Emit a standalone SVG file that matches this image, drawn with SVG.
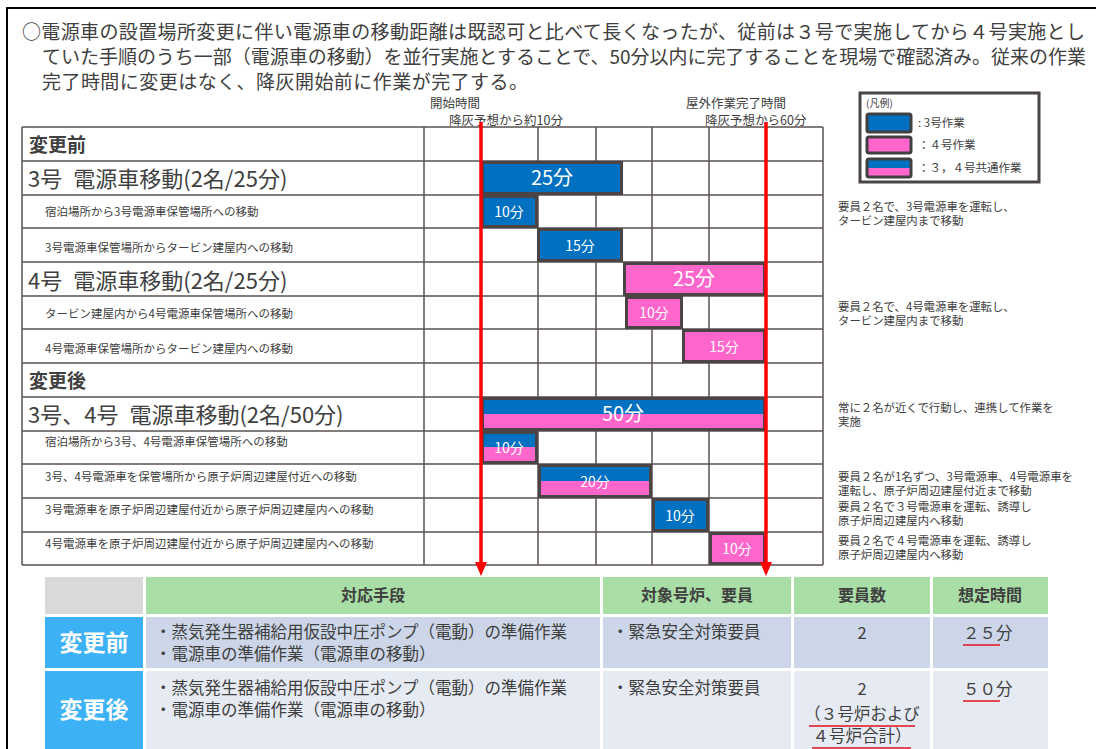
<svg xmlns="http://www.w3.org/2000/svg" width="1096" height="749" viewBox="0 0 1096 749">
<style>
text{font-family:"Noto Sans CJK JP","Noto Sans",sans-serif;fill:#404040}
.grid{stroke:#5a5252;stroke-width:1.5;fill:none}
.bar{stroke:#4a4444;stroke-width:3}
.blue{fill:#0070c0}
.pink{fill:#ff66cc}
.split{fill:url(#sp)}
.bt{fill:#fff;text-anchor:middle}
.big{font-size:20px}
.sm{font-size:14px}
.lbl{font-size:11.5px}
.hd{font-size:22px}
.sec{font-size:19px;font-weight:bold}
.ann{font-size:11.4px}
.tm{font-size:12.5px}
.red{stroke:#ff0000;stroke-width:3.5;fill:none}
.th{font-size:16px;font-weight:bold;text-anchor:middle}
.tb{font-size:16.5px}
.rl{font-size:23px;font-weight:bold;fill:#fff;text-anchor:middle}
.ul{stroke:#e0141e;stroke-width:1.5}
</style>
<defs>
<linearGradient id="sp" x1="0" y1="0" x2="0" y2="1">
<stop offset="0" stop-color="#0070c0"/><stop offset="0.5" stop-color="#0070c0"/>
<stop offset="0.5" stop-color="#ff66cc"/><stop offset="1" stop-color="#ff66cc"/>
</linearGradient>
<marker id="ah" markerUnits="userSpaceOnUse" viewBox="0 -6 14 12" markerWidth="14" markerHeight="12" refX="4" refY="0" orient="auto">
<path d="M0,-6 L14,0 L0,6 z" fill="#ff0000"/>
</marker>
</defs>
<rect width="1096" height="749" fill="#fff"/>
<path d="M7 749 V8 H1096" stroke="#000" stroke-width="2" fill="none"/>

<g id="intro">
<text x="22" y="39" font-size="19" textLength="1063" lengthAdjust="spacing">○電源車の設置場所変更に伴い電源車の移動距離は既認可と比べて長くなったが、従前は３号で実施してから４号実施とし</text>
<text x="42" y="64" font-size="19" textLength="1044" lengthAdjust="spacing">ていた手順のうち一部（電源車の移動）を並行実施とすることで、50分以内に完了することを現場で確認済み。従来の作業</text>
<text x="42" y="89" font-size="19" textLength="486" lengthAdjust="spacing">完了時間に変更はなく、降灰開始前に作業が完了する。</text>
</g>

<g id="time-labels">
<text class="tm" x="430" y="108">開始時間</text>
<text class="tm" x="449" y="125">降灰予想から約10分</text>
<text class="tm" x="686" y="108">屋外作業完了時間</text>
<text class="tm" x="705" y="125">降灰予想から60分</text>
</g>

<g id="grid">
<path class="grid" d="M22 127H823M22 161H823M22 195H823M22 228H823M22 262H823M22 296H823M22 329H823M22 363H823M22 397H823M22 431H823M22 464H823M22 498H823M22 532H823M22 565H823"/>
<path class="grid" d="M22 127V565M424 127V565M481 127V565M538 127V565M596 127V565M652 127V565M709 127V565M766 127V565M823 127V565"/>
</g>

<g id="row-labels">
<text class="sec" x="29" y="152">変更前</text>
<text class="hd" x="28" y="187">3号&#8194;電源車移動(2名/25分)</text>
<text class="lbl" x="45" y="216">宿泊場所から3号電源車保管場所への移動</text>
<text class="lbl" x="45" y="252">3号電源車保管場所からタービン建屋内への移動</text>
<text class="hd" x="28" y="289">4号&#8194;電源車移動(2名/25分)</text>
<text class="lbl" x="45" y="318">タービン建屋内から4号電源車保管場所への移動</text>
<text class="lbl" x="45" y="353">4号電源車保管場所からタービン建屋内への移動</text>
<text class="sec" x="29" y="388">変更後</text>
<text class="hd" x="28" y="423">3号、4号&#8194;電源車移動(2名/50分)</text>
<text class="lbl" x="45" y="446">宿泊場所から3号、4号電源車保管場所への移動</text>
<text class="lbl" x="45" y="481">3号、4号電源車を保管場所から原子炉周辺建屋付近への移動</text>
<text class="lbl" x="45" y="514">3号電源車を原子炉周辺建屋付近から原子炉周辺建屋内への移動</text>
<text class="lbl" x="45" y="548">4号電源車を原子炉周辺建屋付近から原子炉周辺建屋内への移動</text>
</g>

<g id="bar-3-total"><rect class="bar blue" x="482.5" y="162.5" width="139" height="31"/><text class="bt big" x="552" y="185">25分</text></g>
<g id="bar-3-a"><rect class="bar blue" x="482.5" y="196.5" width="54" height="30"/><text class="bt sm" x="509" y="217">10分</text></g>
<g id="bar-3-b"><rect class="bar blue" x="538.5" y="229.5" width="83" height="31"/><text class="bt sm" x="580" y="251">15分</text></g>
<g id="bar-4-total"><rect class="bar pink" x="624.5" y="263.5" width="140" height="31"/><text class="bt big" x="694" y="286">25分</text></g>
<g id="bar-4-a"><rect class="bar pink" x="626.5" y="297.5" width="55" height="30"/><text class="bt sm" x="654" y="318">10分</text></g>
<g id="bar-4-b"><rect class="bar pink" x="683.5" y="330.5" width="81" height="31"/><text class="bt sm" x="724" y="352">15分</text></g>
<g id="bar-34-total"><rect class="bar split" x="482.5" y="398.5" width="282" height="31"/><text class="bt big" x="623" y="421">50分</text></g>
<g id="bar-34-a"><rect class="bar split" x="482.5" y="432.5" width="54" height="30"/><text class="bt sm" x="509" y="453">10分</text></g>
<g id="bar-34-b"><rect class="bar split" x="539.5" y="465.5" width="111" height="31"/><text class="bt sm" x="595" y="487">20分</text></g>
<g id="bar-3-c"><rect class="bar blue" x="653.5" y="499.5" width="54" height="31"/><text class="bt sm" x="680" y="521">10分</text></g>
<g id="bar-4-c"><rect class="bar pink" x="710.5" y="533.5" width="54" height="30"/><text class="bt sm" x="737" y="554">10分</text></g>

<g id="connectors">
<path class="red" d="M481 122V566" marker-end="url(#ah)"/>
<path class="red" d="M766 122V566" marker-end="url(#ah)"/>
</g>

<g id="legend">
<rect x="860" y="93" width="179" height="89" fill="#fff" stroke="#4a4444" stroke-width="3"/>
<text x="866" y="107" font-size="10">(凡例)</text>
<rect x="867" y="114" width="44" height="18" rx="2" class="blue" stroke="#404040" stroke-width="3"/>
<rect x="867" y="137" width="44" height="16" rx="2" class="pink" stroke="#404040" stroke-width="3"/>
<rect x="867" y="159" width="44" height="18" rx="2" class="split" stroke="#404040" stroke-width="3"/>
<text x="918" y="127" font-size="11.5">: 3号作業</text>
<text x="918" y="149" font-size="11.5">：４号作業</text>
<text x="918" y="172" font-size="11.5">：３，４号共通作業</text>
</g>

<g id="annotations">
<text class="ann" x="838" y="211">要員２名で、3号電源車を運転し、</text>
<text class="ann" x="838" y="225">タービン建屋内まで移動</text>
<text class="ann" x="838" y="311">要員２名で、4号電源車を運転し、</text>
<text class="ann" x="838" y="325">タービン建屋内まで移動</text>
<text class="ann" x="838" y="412">常に２名が近くで行動し、連携して作業を</text>
<text class="ann" x="838" y="426">実施</text>
<text class="ann" x="838" y="481">要員２名が1名ずつ、3号電源車、4号電源車を</text>
<text class="ann" x="838" y="495">運転し、原子炉周辺建屋付近まで移動</text>
<text class="ann" x="838" y="511">要員２名で３号電源車を運転、誘導し</text>
<text class="ann" x="838" y="525">原子炉周辺建屋内へ移動</text>
<text class="ann" x="838" y="545">要員２名で４号電源車を運転、誘導し</text>
<text class="ann" x="838" y="559">原子炉周辺建屋内へ移動</text>
</g>

<g id="table">
<rect x="45" y="577" width="98" height="37" fill="#d9d9d9"/>
<rect x="146" y="577" width="454" height="37" fill="#a9dea6"/>
<rect x="603" y="577" width="188" height="37" fill="#a9dea6"/>
<rect x="794" y="577" width="136" height="37" fill="#a9dea6"/>
<rect x="933" y="577" width="115" height="37" fill="#a9dea6"/>
<text class="th" x="373" y="601">対応手段</text>
<text class="th" x="697" y="601">対象号炉、要員</text>
<text class="th" x="862" y="601">要員数</text>
<text class="th" x="990" y="601">想定時間</text>

<rect x="45" y="617" width="98" height="51" fill="#3cb1f6"/>
<rect x="146" y="617" width="454" height="51" fill="#ccd6e8"/>
<rect x="603" y="617" width="188" height="51" fill="#ccd6e8"/>
<rect x="794" y="617" width="136" height="51" fill="#ccd6e8"/>
<rect x="933" y="617" width="115" height="51" fill="#ccd6e8"/>
<text class="rl" x="94" y="651">変更前</text>
<text class="tb" x="155" y="638">・蒸気発生器補給用仮設中圧ポンプ（電動）の準備作業</text>
<text class="tb" x="155" y="660">・電源車の準備作業（電源車の移動）</text>
<text class="tb" x="612" y="638">・緊急安全対策要員</text>
<text class="tb" x="862" y="639" text-anchor="middle">2</text>
<text class="tb" x="963" y="639">２５分</text>
<path class="ul" d="M963 645H1000"/>

<rect x="45" y="671" width="98" height="78" fill="#3cb1f6"/>
<rect x="146" y="671" width="454" height="78" fill="#e6eaf3"/>
<rect x="603" y="671" width="188" height="78" fill="#e6eaf3"/>
<rect x="794" y="671" width="136" height="78" fill="#e6eaf3"/>
<rect x="933" y="671" width="115" height="78" fill="#e6eaf3"/>
<text class="rl" x="94" y="718">変更後</text>
<text class="tb" x="155" y="694">・蒸気発生器補給用仮設中圧ポンプ（電動）の準備作業</text>
<text class="tb" x="155" y="716">・電源車の準備作業（電源車の移動）</text>
<text class="tb" x="612" y="694">・緊急安全対策要員</text>
<text class="tb" x="862" y="695" text-anchor="middle">2</text>
<text class="tb" x="862" y="720" text-anchor="middle" font-size="16">（３号炉および</text>
<text class="tb" x="862" y="742" text-anchor="middle" font-size="16">４号炉合計）</text>
<path class="ul" d="M809 726H915M812 748H911"/>
<text class="tb" x="963" y="695">５０分</text>
<path class="ul" d="M963 701H1000"/>
</g>
</svg>
